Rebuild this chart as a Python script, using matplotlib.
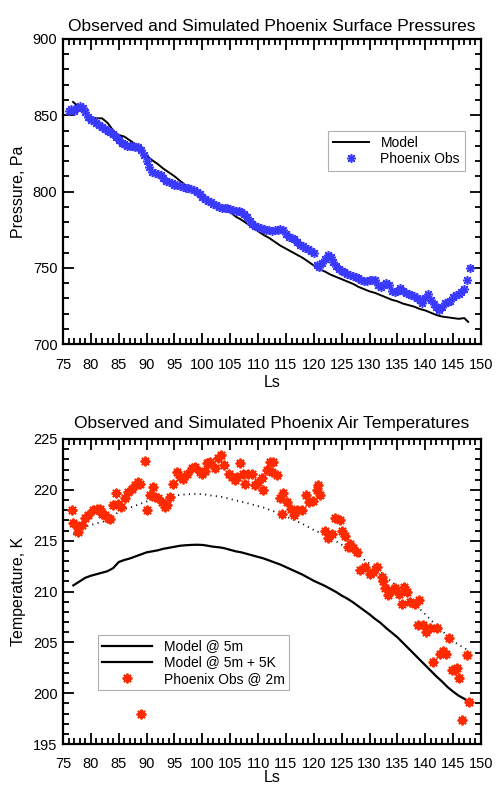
import numpy as np
import matplotlib
matplotlib.use('Agg')
from matplotlib import pyplot as plt
from matplotlib.lines import Line2D
from matplotlib.ticker import MultipleLocator

plt.rcParams['font.family'] = ['Liberation Sans', 'DejaVu Sans']

# ---- surface pressure (Pa) vs Ls ----
p_obs_ls = np.arange(76.0, 148.01, 0.5)
p_obs = [853, 854, 853, 855, 856, 855, 852, 849, 847, 846,
         845, 843.5, 842, 841, 840, 839, 838, 836, 834, 832,
         831, 830, 830, 830, 829.5, 829, 827, 824, 820, 816,
         813, 812, 811.5, 811, 809, 807, 806, 805.5, 804.5, 804,
         803.5, 803, 802.5, 802, 801.5, 801, 800, 798.5, 796.5, 795,
         794, 793, 792, 791, 790, 789.5, 789, 789, 788.5, 788,
         787, 787, 786.5, 785.5, 783, 780.5, 778.5, 777.5, 776.5, 776,
         775.5, 775, 774.5, 774, 774.5, 775, 775.5, 775, 772, 770,
         769.5, 769, 767, 765, 764, 763, 762, 761, 760, 752,
         750.5, 753, 756, 758.5, 757, 754, 751, 749.5, 748, 747,
         746, 745, 744.5, 744, 743, 742, 741.5, 741.5, 742, 742,
         742, 739, 737.5, 738.5, 740, 739, 735, 734, 735, 736.5,
         735, 733.5, 733, 732, 731.5, 730, 729, 727, 730, 733,
         729, 726, 724, 722, 724, 727, 727.5, 728, 731, 732,
         733, 734, 736, 742, 750]

p_mod_ls = [76.8, 78, 79, 80, 81, 82, 83, 84, 85, 86, 87, 88, 89, 90,
            91, 92, 93, 94, 95, 96, 97, 98, 99, 100, 101, 102, 103, 104,
            105, 106, 107, 108, 109, 110, 111, 112, 113, 114, 115, 116, 117,
            118, 119, 120, 121, 122, 123, 124, 125, 126, 127, 128, 129, 130,
            131, 132, 133, 134, 135, 136, 137, 138, 139, 140, 141, 142, 143,
            144, 145, 146, 147, 147.7]
p_mod = [858.7, 855, 851.5, 849, 848, 848, 845, 840, 837, 836, 833.5, 831,
         827, 823.5, 820.5, 818, 815, 812.5, 810, 807, 804, 801, 798.5, 796,
         793.5, 791.5, 789.5, 788, 786.5, 783.5, 781.5, 779, 776.5, 774,
         771.5, 769.5, 767, 764.5, 762.5, 760.5, 758.5, 756.5, 754, 751.5,
         749, 747.5, 745.5, 744, 742.5, 741, 739.5, 737.5, 736, 734.5,
         733.5, 732, 730.5, 729, 728, 726.5, 725.5, 724.5, 723, 722, 720.5,
         719, 718, 717.5, 717, 716.5, 717, 714.5]

# ---- air temperature (K) vs Ls ----
t_mod_ls = [76.85, 78, 79, 80, 81, 82, 83, 84, 85, 86, 87, 88, 89, 90, 91,
            92, 93, 94, 95, 96, 97, 98, 99, 100, 101, 102, 103, 104, 105, 106,
            107, 108, 109, 110, 111, 112, 113, 114, 115, 116, 117, 118, 119,
            120, 121, 122, 123, 124, 125, 126, 127, 128, 129, 130, 131, 132,
            133, 134, 135, 136, 137, 138, 139, 140, 141, 142, 143, 144, 145,
            146, 147, 147.4]
t_mod = [210.6, 211.0, 211.35, 211.55, 211.7, 211.85, 212.0, 212.3, 212.9,
         213.1, 213.25, 213.45, 213.65, 213.85, 213.95, 214.05, 214.2, 214.3,
         214.4, 214.5, 214.55, 214.58, 214.6, 214.58, 214.5, 214.4, 214.35,
         214.25, 214.1, 213.95, 213.85, 213.7, 213.55, 213.4, 213.25, 213.05,
         212.85, 212.65, 212.4, 212.15, 211.9, 211.65, 211.35, 211.05, 210.8,
         210.55, 210.25, 209.95, 209.6, 209.3, 208.95, 208.55, 208.15, 207.75,
         207.3, 206.9, 206.4, 205.95, 205.5, 204.95, 204.4, 203.85, 203.3,
         202.75, 202.2, 201.65, 201.15, 200.6, 200.15, 199.75, 199.45, 199.3]
t_offset = 5.0

t_obs_ls = [76.55, 76.85, 77.45, 77.75, 78.35, 78.95, 79.55, 80.45, 81.05,
            81.65, 81.95, 82.5, 83.1, 83.4, 84.0, 84.5, 84.9, 85.35, 86.1,
            86.7, 87.3, 87.9, 88.5, 88.8, 89.0, 89.7, 90.1, 90.6, 91.1, 91.5,
            92.1, 92.7, 93.3, 93.7, 94.2, 94.8, 95.4, 96.0, 96.6, 97.2, 98.1,
            98.7, 99.6, 99.9, 100.5, 100.8, 101.1, 101.4, 102.3, 102.9, 103.3,
            103.9, 104.7, 105.3, 105.9, 106.2, 106.8, 107.25, 107.65, 108.25,
            108.85, 109.45, 110.05, 110.65, 110.9, 111.55, 112.15, 112.45,
            112.75, 113.35, 113.95, 114.25, 114.55, 115.25, 115.85, 116.45,
            117.05, 117.8, 118.6, 119.2, 119.9, 120.5, 120.8, 121.1, 122.0,
            122.6, 123.2, 123.8, 124.7, 125.0, 125.6, 126.2, 126.5, 127.1,
            127.7, 128.3, 129.2, 130.1, 130.7, 131.4, 132.2, 132.5, 132.8,
            133.4, 134.0, 134.6, 135.2, 135.8, 136.25, 136.7, 137.25, 138.15,
            138.75, 138.9, 139.55, 140.1, 140.85, 141.45, 142.05, 142.65,
            143.25, 143.7, 144.3, 144.75, 145.35, 145.75, 146.1, 146.55,
            147.4, 147.9]
t_obs = [218.0, 216.7, 216.4, 215.9, 216.55, 217.2, 217.5, 218.0, 218.15,
         218.15, 217.65, 217.5, 217.2, 217.1, 218.5, 219.65, 218.65, 218.3,
         219.15, 219.8, 220.1, 220.45, 220.8, 220.55, 198.0, 222.85, 218.0,
         219.5, 220.3, 219.3, 219.15, 218.8, 218.3, 218.5, 219.3, 220.6,
         221.75, 221.25, 221.1, 221.6, 222.1, 222.25, 221.75, 221.6, 221.9,
         222.6, 222.6, 222.75, 222.1, 223.1, 223.4, 222.4, 221.6, 221.3,
         220.95, 221.3, 222.6, 221.6, 220.6, 221.6, 221.6, 220.45, 220.8,
         221.15, 220.0, 221.95, 222.75, 221.75, 222.75, 221.45, 219.15,
         217.65, 219.65, 218.8, 218.15, 217.5, 218.0, 218.0, 219.5, 218.8,
         218.95, 220.0, 220.45, 219.5, 216.0, 215.3, 215.7, 217.2, 217.0,
         216.0, 215.5, 214.4, 214.7, 214.25, 213.9, 212.1, 212.45, 211.75,
         211.95, 212.45, 211.45, 211.0, 210.3, 209.65, 210.15, 210.3, 209.8,
         208.8, 210.45, 209.95, 208.95, 208.8, 206.7, 209.2, 206.7, 206.05,
         206.4, 203.1, 206.4, 203.9, 204.1, 203.9, 205.4, 202.3, 202.3,
         202.45, 201.45, 197.35, 203.75, 199.15]

fig = plt.figure(figsize=(4.96, 7.87), dpi=100)
ax1 = fig.add_axes([63 / 496, 1 - 344 / 787, 418 / 496, 305 / 787])
ax2 = fig.add_axes([63 / 496, 1 - 744 / 787, 418 / 496, 305 / 787])

blue = '#3a3aff'
red = '#ff2a00'
star = (8, 2, 0)


def style_axes(ax, ymin, ymax, ymaj, ymin_step, xpad=10):
    ax.set_xlim(75, 150)
    ax.set_ylim(ymin, ymax)
    ax.xaxis.set_major_locator(MultipleLocator(5))
    ax.xaxis.set_minor_locator(MultipleLocator(1))
    ax.yaxis.set_major_locator(MultipleLocator(ymaj))
    ax.yaxis.set_minor_locator(MultipleLocator(ymin_step))
    ax.tick_params(which='both', direction='in', top=True, right=True,
                   width=1.3, labelsize=10.5)
    ax.tick_params(which='major', length=8)
    ax.tick_params(which='minor', length=4)
    ax.tick_params(axis='x', pad=xpad)
    ax.tick_params(axis='y', pad=4)
    for s in ax.spines.values():
        s.set_linewidth(1.6)


# top panel
ax1.plot(p_mod_ls, p_mod, color='black', lw=1.4, zorder=2)
ax1.plot(p_obs_ls, p_obs, ls='none', marker=star, ms=6.5, mew=1.1,
         color=blue, zorder=3)
style_axes(ax1, 700, 900, 50, 10)
ax1.set_title('Observed and Simulated Phoenix Surface Pressures',
              fontsize=12.5, pad=6)
ax1.set_ylabel('Pressure, Pa', fontsize=11.5, labelpad=5)
ax1.set_xlabel('Ls', fontsize=11.5, labelpad=2)
h1 = [Line2D([], [], color='black', lw=1.4),
      Line2D([], [], ls='none', marker=star, ms=6.5, mew=1.1, color=blue)]
leg1 = ax1.legend(h1, ['Model', 'Phoenix Obs'], loc='center right',
                  bbox_to_anchor=(0.978, 0.634), fontsize=10,
                  fancybox=False, framealpha=1, edgecolor='#b0b0b0',
                  borderpad=0.35, labelspacing=0.15, handlelength=2.6,
                  handletextpad=0.8)
leg1.get_frame().set_linewidth(0.8)

# bottom panel
ax2.plot(t_mod_ls, t_mod, color='black', lw=1.6, zorder=2)
ax2.plot(t_mod_ls, np.array(t_mod) + t_offset, color='black', lw=1.3,
         ls=(0, (0.6, 2.4)), zorder=2)
ax2.plot(t_obs_ls, t_obs, ls='none', marker=star, ms=7, mew=1.4,
         color=red, zorder=3)
style_axes(ax2, 195, 225, 5, 1, xpad=9)
ax2.set_title('Observed and Simulated Phoenix Air Temperatures',
              fontsize=12.5, pad=8)
ax2.set_ylabel('Temperature, K', fontsize=11.5, labelpad=5)
ax2.set_xlabel('Ls', fontsize=11.5, labelpad=0)
h2 = [Line2D([], [], color='black', lw=1.6),
      Line2D([], [], color='black', lw=1.6),
      Line2D([], [], ls='none', marker=star, ms=7, mew=1.4, color=red)]
leg2 = ax2.legend(h2, ['Model @ 5m', 'Model @ 5m + 5K', 'Phoenix Obs @ 2m'],
                  loc='lower left', bbox_to_anchor=(0.066, 0.153),
                  fontsize=10, fancybox=False, framealpha=1,
                  edgecolor='#b0b0b0', borderpad=0.35, labelspacing=0.15,
                  handlelength=3.6, handletextpad=0.8)
leg2.get_frame().set_linewidth(0.8)

fig.savefig('out.png', dpi=100)
